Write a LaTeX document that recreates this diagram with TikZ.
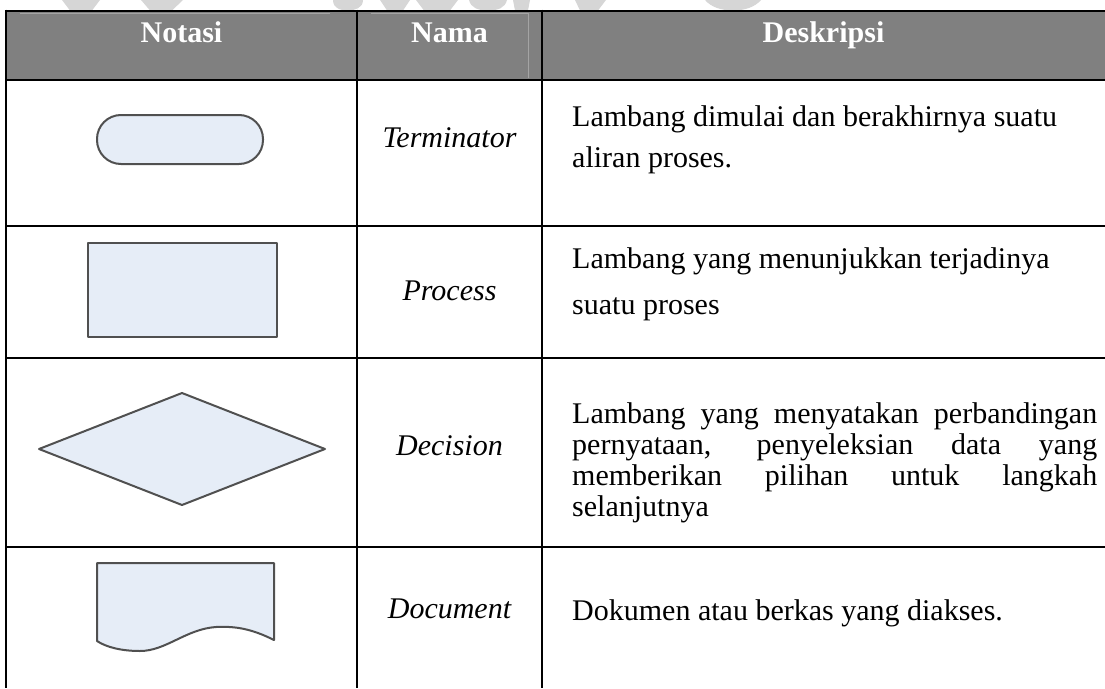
\documentclass[tikz,border=0pt]{standalone}
\usepackage{fontspec}
\setmainfont{Liberation Serif}
\definecolor{headgray}{HTML}{808080}
\definecolor{headline}{HTML}{A4A4A4}
\definecolor{symfill}{HTML}{E6EDF7}
\definecolor{symline}{HTML}{505050}
\definecolor{markgray}{HTML}{D6D6D6}
\begin{document}
\begin{tikzpicture}[x=1pt,y=-1pt,
  grid/.style={line width=2pt, black},
  symbol/.style={fill=symfill, draw=symline, line width=2pt, line join=round},
  headtxt/.style={font=\fontsize{30}{36}\selectfont\bfseries, text=white, inner sep=0pt, anchor=base},
  nametxt/.style={font=\fontsize{30}{36}\selectfont\itshape, inner sep=0pt, anchor=base},
  desctxt/.style={font=\fontsize{30}{36}\selectfont, inner sep=0pt, anchor=base west}]
\useasboundingbox (0,0) rectangle (1105,688);

% faint emblem remnants above the table
\fill[markgray] (62,0) -- (100,0) -- (92,10.5) -- (70,10.5) -- cycle;
\fill[markgray] (141,0) -- (183,0) -- (172,10.5) -- (150,10.5) -- cycle;
\fill[markgray] (333,0) -- (363,0) .. controls (363,8) and (355,10.5) .. (348,10.5) .. controls (340,10.5) and (333,8) .. (333,0) -- cycle;
\fill[markgray] (380,0) -- (410,0) -- (403,10.5) -- (387,10.5) -- cycle;
\fill[markgray] (416,0) -- (458,0) -- (450,10.5) -- (424,10.5) -- cycle;
\fill[markgray] (469,0) -- (507,0) .. controls (505,8) and (498,10.5) .. (488,10.5) .. controls (478,10.5) and (471,8) .. (469,0) -- cycle;
\fill[markgray] (513,0) -- (530,0) -- (528,10.5) -- (515,10.5) -- cycle;
\fill[markgray] (575,0) -- (606,0) -- (598,10.5) -- (580,10.5) -- cycle;
\fill[markgray] (705,0) -- (761,0) .. controls (755,7) and (745,10.5) .. (733,10.5) .. controls (721,10.5) and (711,7) .. (705,0) -- cycle;

% header band
\fill[headgray] (6,10.5) rectangle (1105,80);
\draw[headline, line width=0.8pt] (20,13.5) -- (330,13.5);
\draw[headline, line width=0.8pt] (371,13.5) -- (528,13.5) -- (528,78);

% table rules
\draw[grid] (6,10.5) -- (1105,10.5);
\draw[grid] (6,80) -- (1105,80);
\draw[grid] (6,226) -- (1105,226);
\draw[grid] (6,358) -- (1105,358);
\draw[grid] (6,547) -- (1105,547);
\draw[grid] (6,9.5) -- (6,688);
\draw[grid] (357,9.5) -- (357,688);
\draw[grid] (542,9.5) -- (542,688);

% header texts
\node[headtxt] (hnotasi) at (181.5,42) {Notasi};
\node[headtxt] (hnama) at (449.5,42) {Nama};
\node[headtxt] (hdesk) at (823.5,42) {Deskripsi};

% symbols
\draw[symbol, rounded corners=24pt] (97,115) rectangle (263,164);
\draw[symbol] (88,243) rectangle (277,337);
\draw[symbol] (39,449) -- (182,393) -- (325,449) -- (182,505) -- cycle;
\draw[symbol] (97,641) -- (97,563) -- (274,563) -- (274,640)
  .. controls (252,629) and (236,626) .. (216,627)
  .. controls (186,629) and (166,651) .. (140,651)
  .. controls (121,651) and (106,647) .. (97,641) -- cycle;

% names
\node[nametxt] (nterm) at (449.5,147) {Terminator};
\node[nametxt] (nproc) at (449.5,300) {Process};
\node[nametxt] (ndec) at (449.5,455) {Decision};
\node[nametxt] (ndoc) at (449.5,618) {Document};

% descriptions
\node[desctxt] (d1a) at (572,126) {Lambang dimulai dan berakhirnya suatu};
\node[desctxt] (d1b) at (572,167) {aliran proses.};
\node[desctxt] (d2a) at (572,268) {Lambang yang menunjukkan terjadinya};
\node[desctxt] (d2b) at (572,314) {suatu proses};
\node[desctxt] (d3a) at (572,423) {\makebox[525pt][s]{Lambang yang menyatakan perbandingan}};
\node[desctxt] (d3b) at (572,454) {\makebox[525pt][s]{pernyataan, penyeleksian data yang}};
\node[desctxt] (d3c) at (572,485) {\makebox[525pt][s]{memberikan pilihan untuk langkah}};
\node[desctxt] (d3d) at (572,516) {selanjutnya};
\node[desctxt] (d4a) at (572,620) {Dokumen atau berkas yang diakses.};
\end{tikzpicture}
\end{document}
